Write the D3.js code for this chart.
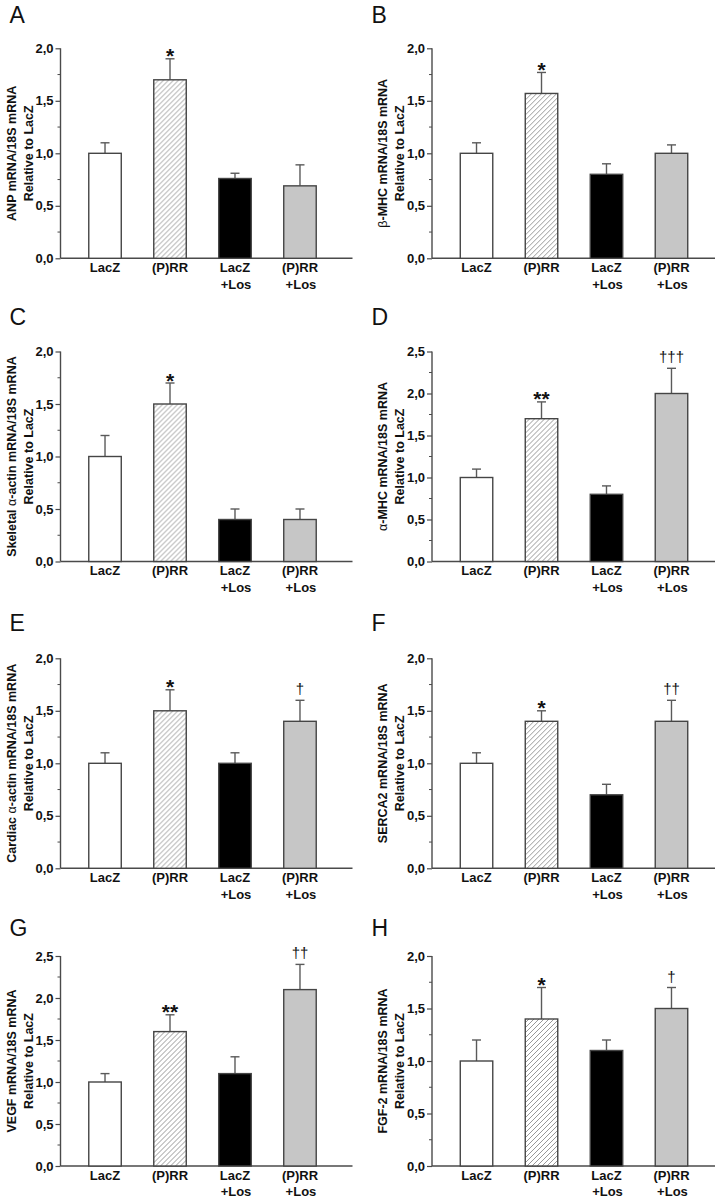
<!DOCTYPE html>
<html>
<head>
<meta charset="utf-8">
<script src="https://cdn.jsdelivr.net/npm/d3@7"></script>
<style>
  html, body { margin: 0; padding: 0; background: #fff; }
  svg { display: block; }
  text { font-family: "Liberation Sans", Arial, Helvetica, sans-serif; }
</style>
</head>
<body>
<svg id="chart" width="724" height="1198"></svg>
<script>
// ---------------- DATA ----------------
const categories = [["LacZ"], ["(P)RR"], ["LacZ", "+Los"], ["(P)RR", "+Los"]];
const panelLetters = ["A", "B", "C", "D", "E", "F", "G", "H"];
// Greek prefix (drawn non-bold) + bold remainder, line 2 of title
const titleGreek = ["", "\u03B2", "", "\u03B1", "", "", "", ""];
const titleLine1 = [
  "ANP mRNA/18S mRNA",
  "-MHC mRNA/18S mRNA",
  "Skeletal |\u03B1|-actin mRNA/18S mRNA",
  "-MHC mRNA/18S mRNA",
  "Cardiac |\u03B1|-actin mRNA/18S mRNA",
  "SERCA2 mRNA/18S mRNA",
  "VEGF mRNA/18S mRNA",
  "FGF-2 mRNA/18S mRNA"
];
const titleLine2 = "Relative to LacZ";
const yMax = [2.0, 2.0, 2.0, 2.5, 2.0, 2.0, 2.5, 2.0];
const meanA = [1.00, 1.70, 0.76, 0.69];
const meanB = [1.00, 1.57, 0.80, 1.00];
const meanC = [1.00, 1.50, 0.40, 0.40];
const meanD = [1.00, 1.70, 0.80, 2.00];
const meanE = [1.00, 1.50, 1.00, 1.40];
const meanF = [1.00, 1.40, 0.70, 1.40];
const meanG = [1.00, 1.60, 1.10, 2.10];
const meanH = [1.00, 1.40, 1.10, 1.50];
const errA = [0.10, 0.20, 0.05, 0.20];
const errB = [0.10, 0.20, 0.10, 0.08];
const errC = [0.20, 0.20, 0.10, 0.10];
const errD = [0.10, 0.20, 0.10, 0.30];
const errE = [0.10, 0.20, 0.10, 0.20];
const errF = [0.10, 0.10, 0.10, 0.20];
const errG = [0.10, 0.20, 0.20, 0.30];
const errH = [0.20, 0.30, 0.10, 0.20];
const markA = ["", "*", "", ""];
const markB = ["", "*", "", ""];
const markC = ["", "*", "", ""];
const markD = ["", "**", "", "\u2020\u2020\u2020"];
const markE = ["", "*", "", "\u2020"];
const markF = ["", "*", "", "\u2020\u2020"];
const markG = ["", "**", "", "\u2020\u2020"];
const markH = ["", "*", "", "\u2020"];

const means = [meanA, meanB, meanC, meanD, meanE, meanF, meanG, meanH];
const errs = [errA, errB, errC, errD, errE, errF, errG, errH];
const marks = [markA, markB, markC, markD, markE, markF, markG, markH];

// ---------------- LAYOUT ----------------
const colAxisX = [60.5, 432];
const colOrigin = [0, 362];
const colAxisLen = [292, 283];
const rowTop = [48.3, 351.5, 658.3, 956];
const letterBase = [22.7, 325, 630.5, 936];
const plotH = 210;
const fills = ["#ffffff", "url(#hatch)", "#000000", "#c6c6c6"];

const svg = d3.select("#chart");
const defs = svg.append("defs");
const pat = defs.append("pattern")
  .attr("id", "hatch").attr("patternUnits", "userSpaceOnUse")
  .attr("width", 5).attr("height", 5);
pat.append("rect").attr("width", 5).attr("height", 5).attr("fill", "#fff");
pat.append("path")
  .attr("d", "M-1,1 L1,-1 M0,5 L5,0 M4,6 L6,4")
  .attr("stroke", "#8c8c8c").attr("stroke-width", 0.9);

const fmt = v => d3.format(".1f")(v).replace(".", ",");

means.forEach((vals, i) => {
  const col = i % 2, row = Math.floor(i / 2);
  const ax = colAxisX[col], top = rowTop[row];
  const g = svg.append("g").attr("transform", `translate(${ax},${top})`);

  const x = d3.scaleBand().domain(d3.range(4)).range([0, 284])
    .paddingInner(0.5).paddingOuter(0.435);
  const y = d3.scaleLinear().domain([0, yMax[i]]).range([plotH, 0]);

  // panel letter
  svg.append("text")
    .attr("x", colOrigin[col] + 9.5).attr("y", letterBase[row])
    .attr("font-size", 23).attr("fill", "#111")
    .text(panelLetters[i]);

  // minor ticks
  const minor = d3.range(0.25, yMax[i], 0.5);
  g.selectAll(".minor").data(minor).join("line")
    .attr("x1", -3).attr("x2", 0)
    .attr("y1", d => y(d)).attr("y2", d => y(d))
    .attr("stroke", "#4a4a4a").attr("stroke-width", 1);

  // y axis
  const yAxis = d3.axisLeft(y).tickValues(d3.range(0, yMax[i] + 0.001, 0.5))
    .tickSize(5).tickPadding(2).tickFormat(fmt);
  const ya = g.append("g").call(yAxis);
  ya.select(".domain").attr("stroke", "#4a4a4a").attr("stroke-width", 1.4)
    .attr("d", `M0,${plotH}V0`);
  ya.selectAll(".tick line").attr("stroke", "#4a4a4a").attr("stroke-width", 1.2);
  ya.selectAll(".tick text")
    .attr("font-family", "'Liberation Sans', Arial, sans-serif")
    .attr("font-size", 13).attr("font-weight", "bold").attr("fill", "#111");

  // x axis line
  g.append("line").attr("x1", 0).attr("x2", colAxisLen[col])
    .attr("y1", plotH).attr("y2", plotH)
    .attr("stroke", "#4a4a4a").attr("stroke-width", 1.4);

  // category labels
  categories.forEach((lines, k) => {
    const t = g.append("text")
      .attr("x", x(k) + x.bandwidth() / 2).attr("y", plotH + 13.8)
      .attr("text-anchor", "middle").attr("font-size", 13)
      .attr("font-weight", "bold").attr("fill", "#111");
    lines.forEach((ln, j) => {
      t.append("tspan").attr("x", x(k) + x.bandwidth() / 2 + (j ? 1 : 0))
        .attr("dy", j ? 16.6 : 0).text(ln);
    });
  });

  // error bars (upper only)
  const e = errs[i];
  vals.forEach((v, k) => {
    const cx = x(k) + x.bandwidth() / 2;
    g.append("line").attr("x1", cx).attr("x2", cx)
      .attr("y1", y(v)).attr("y2", y(v + e[k]))
      .attr("stroke", "#5a5a5a").attr("stroke-width", 1.4);
    g.append("line").attr("x1", cx - 4.5).attr("x2", cx + 4.5)
      .attr("y1", y(v + e[k])).attr("y2", y(v + e[k]))
      .attr("stroke", "#5a5a5a").attr("stroke-width", 1.4);
  });

  // bars
  g.selectAll(".bar").data(vals).join("rect")
    .attr("x", (d, k) => x(k)).attr("width", x.bandwidth())
    .attr("y", d => y(d)).attr("height", d => plotH - y(d))
    .attr("fill", (d, k) => fills[k])
    .attr("stroke", "#454545").attr("stroke-width", 1.4);

  // significance marks
  marks[i].forEach((m, k) => {
    if (!m) return;
    const cx = x(k) + x.bandwidth() / 2;
    const capY = y(vals[k] + e[k]);
    const isStar = m[0] === "*";
    g.append("text").attr("x", cx)
      .attr("y", isStar ? capY + 4.5 : capY - 6)
      .attr("text-anchor", "middle")
      .attr("font-size", isStar ? 21 : 15)
      .attr("font-weight", isStar ? "bold" : "normal")
      .attr("fill", "#111")
      .text(m);
  });

  // y title (two lines, rotated)
  const midY = plotH / 2;
  const t1 = g.append("text")
    .attr("transform", `translate(-45,${midY}) rotate(-90)`)
    .attr("text-anchor", "middle").attr("font-size", 12.5)
    .attr("font-weight", "bold").attr("fill", "#111");
  if (titleGreek[i]) {
    t1.append("tspan").attr("font-weight", "normal").text(titleGreek[i]);
  }
  titleLine1[i].split("|").forEach(part => {
    const isGreek = part === "\u03B1" || part === "\u03B2";
    t1.append("tspan").attr("font-weight", isGreek ? "normal" : "bold").text(part);
  });
  g.append("text")
    .attr("transform", `translate(-28,${midY}) rotate(-90)`)
    .attr("text-anchor", "middle").attr("font-size", 12.5)
    .attr("font-weight", "bold").attr("fill", "#111")
    .text(titleLine2);
});
</script>
</body>
</html>
